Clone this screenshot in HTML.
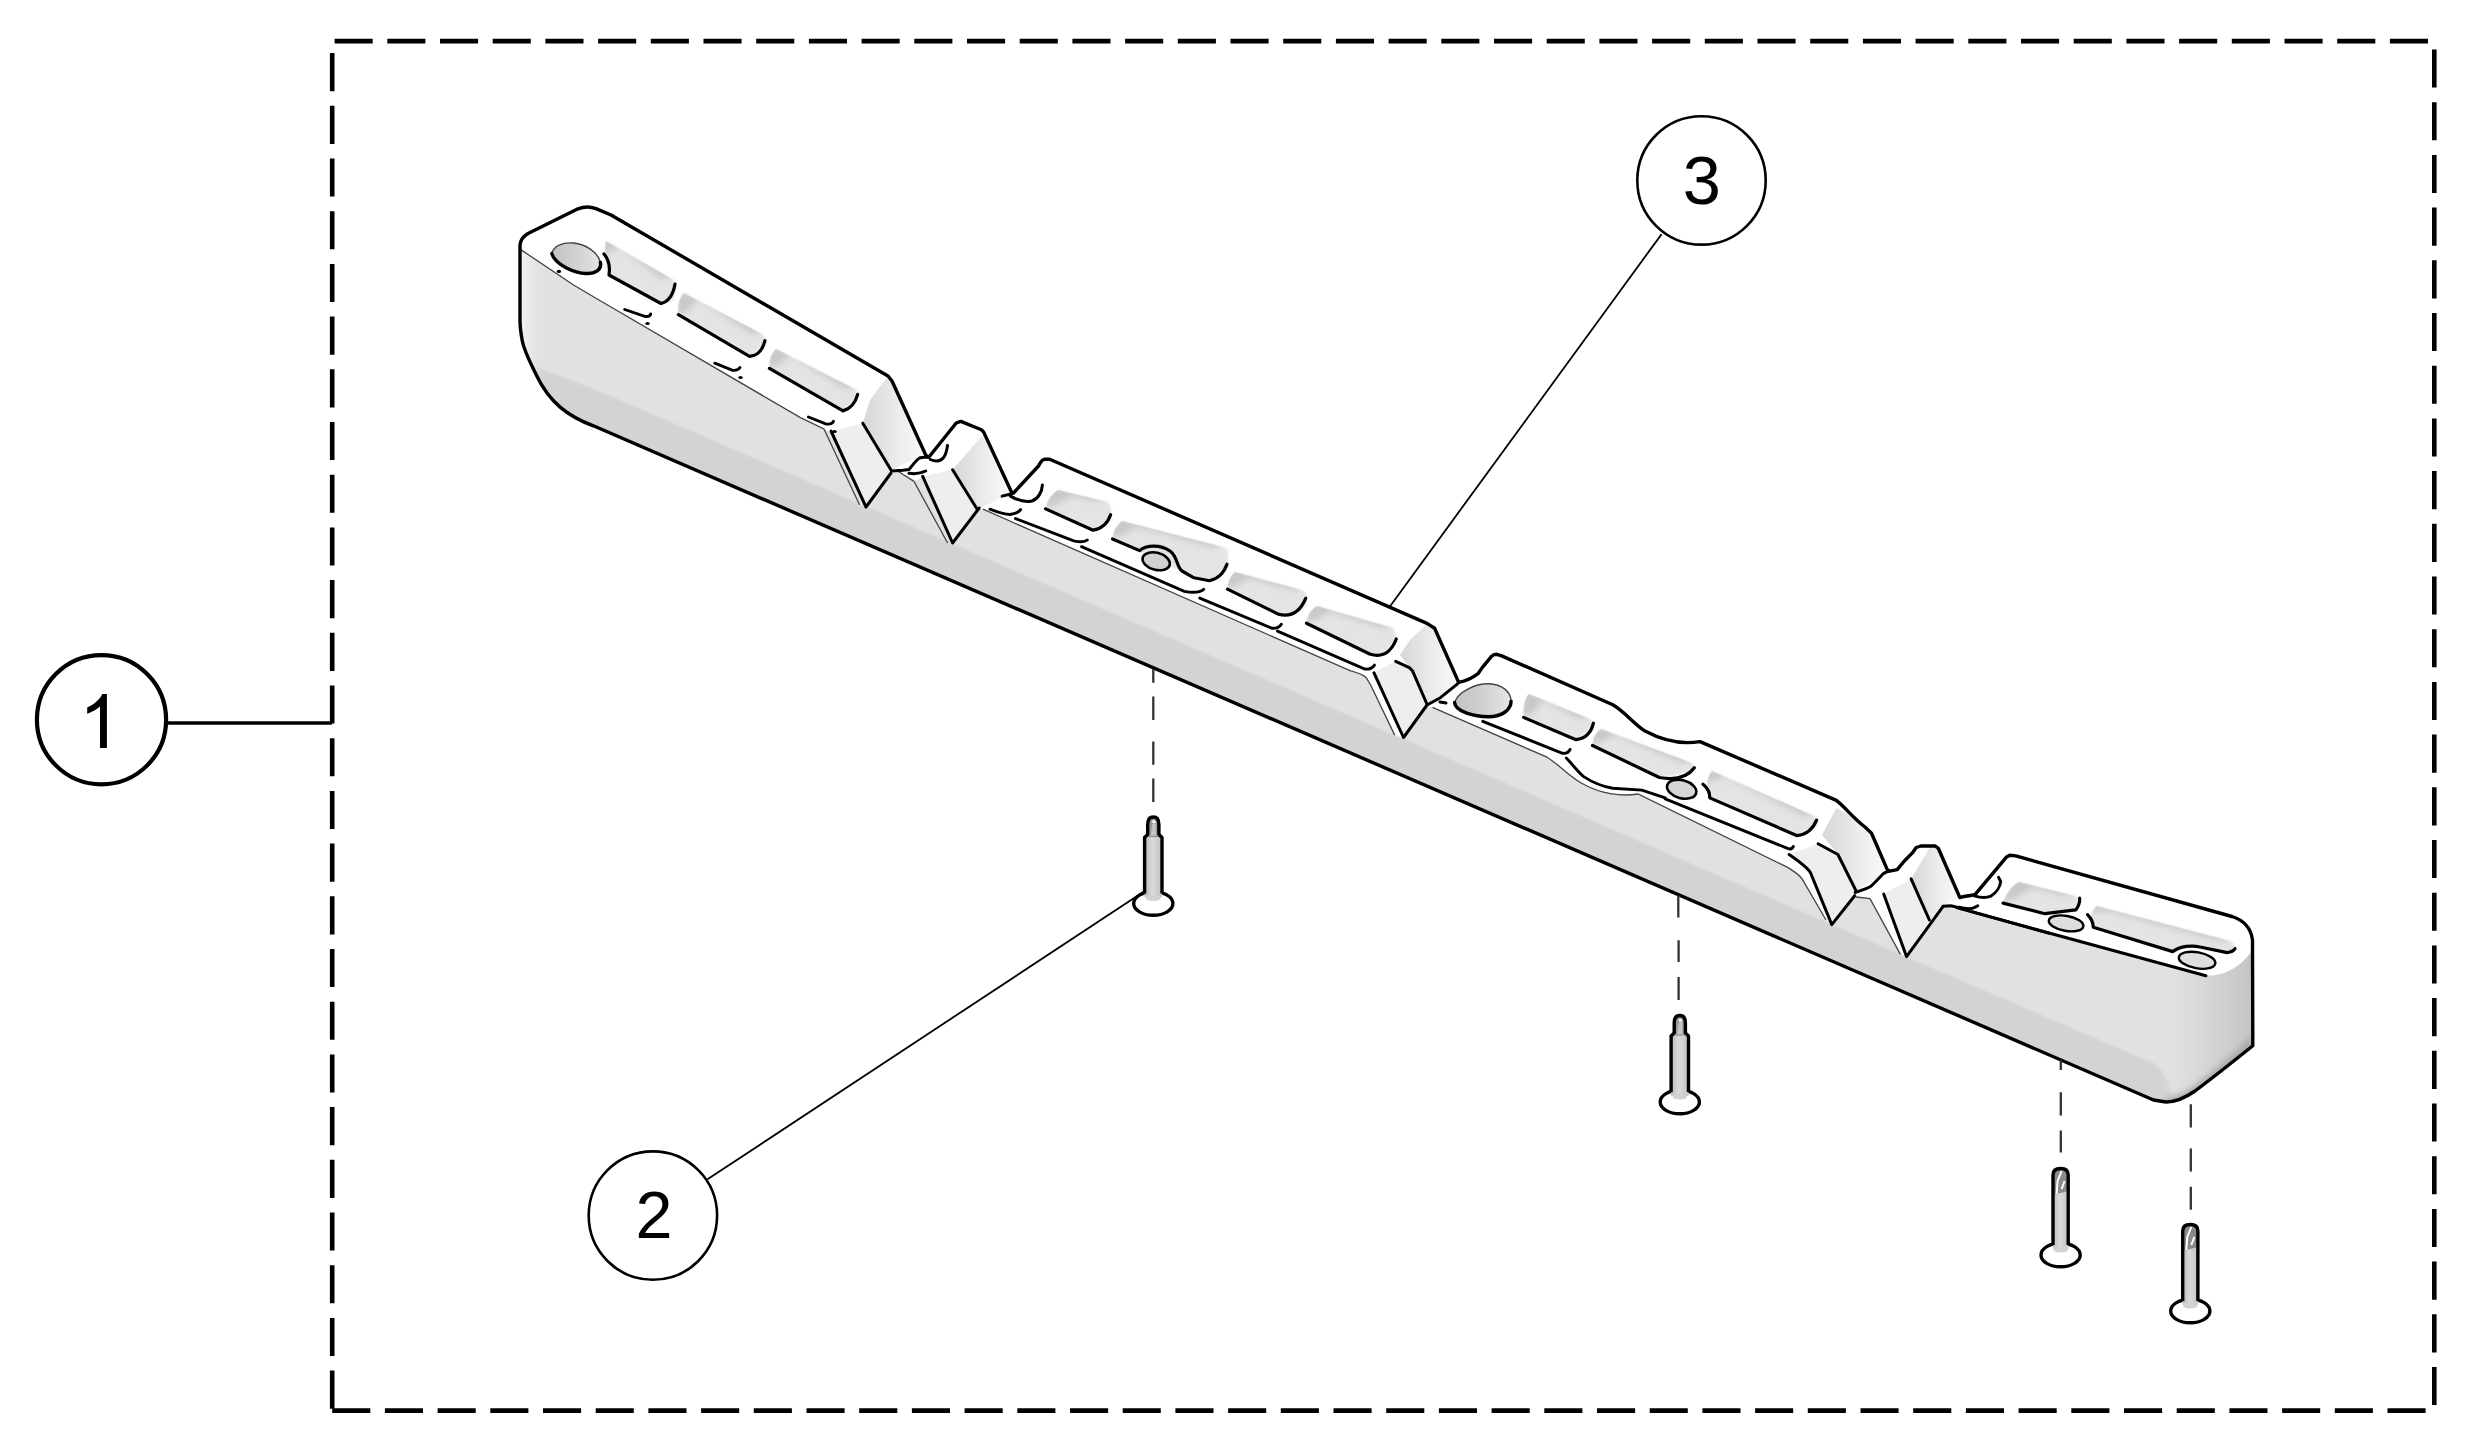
<!DOCTYPE html>
<html>
<head>
<meta charset="utf-8">
<style>
html,body{margin:0;padding:0;background:#fff;}
body{width:2466px;height:1443px;overflow:hidden;}
svg{display:block;}
text{font-family:"Liberation Sans",sans-serif;}
</style>
</head>
<body>
<svg width="2466" height="1443" viewBox="0 0 2466 1443">
<defs>
<linearGradient id="holeg" x1="0" y1="0" x2="1" y2="0">
<stop offset="0" stop-color="#c2c2c2"/><stop offset="0.6" stop-color="#d4d4d4"/><stop offset="1" stop-color="#e6e6e6"/>
</linearGradient>
<linearGradient id="shaft" x1="0" y1="0" x2="1" y2="0">
<stop offset="0" stop-color="#bcbcbc"/><stop offset="0.45" stop-color="#dadada"/><stop offset="1" stop-color="#c2c2c2"/>
</linearGradient>
<linearGradient id="rend" x1="0" y1="0" x2="1" y2="0">
<stop offset="0" stop-color="#e1e1e1" stop-opacity="0"/><stop offset="0.5" stop-color="#d6d6d6"/><stop offset="1" stop-color="#c4c4c4"/>
</linearGradient>
<linearGradient id="lend" x1="0" y1="0" x2="1" y2="0">
<stop offset="0" stop-color="#f4f4f4"/><stop offset="1" stop-color="#e1e1e1" stop-opacity="0"/>
</linearGradient>
<linearGradient id="wall" x1="0" y1="0" x2="1" y2="0">
<stop offset="0" stop-color="#d6d6d6"/><stop offset="0.6" stop-color="#eeeeee"/><stop offset="1" stop-color="#fafafa"/>
</linearGradient>
<filter id="blur3" x="-20%" y="-20%" width="140%" height="140%"><feGaussianBlur stdDeviation="2.2"/></filter>
<filter id="sb" x="-20%" y="-20%" width="140%" height="140%"><feGaussianBlur stdDeviation="1.1"/></filter>
<filter id="sb2" x="-30%" y="-30%" width="160%" height="160%"><feGaussianBlur stdDeviation="3"/></filter>
</defs>

<g stroke="#000" stroke-width="4.6" fill="none" stroke-dasharray="38.1 14.6">
<path d="M334.6 41.1H2428"/>
<path d="M332.2 1410.6H2426"/>
<path d="M332.2 53.1V1409"/>
<path d="M2434.3 49.5V1405"/>
</g>
<circle cx="101.5" cy="719.7" r="64.6" fill="none" stroke="#000" stroke-width="4.2"/>
<path d="M168 722.9H332" stroke="#000" stroke-width="3.5"/>
<path d="M102.3 694.1H106.9V747.9H100V706.5C97 709 92 712 87.2 713.7V707.6C94 704.5 99.5 700 102.3 694.1Z" fill="#000"/>
<circle cx="1701.5" cy="180.4" r="64.2" fill="none" stroke="#000" stroke-width="2.6"/>
<path d="M1661.6 234.1L1386.1 611.7" stroke="#000" stroke-width="1.8"/>
<text x="1701.8" y="203.9" font-size="68.5" text-anchor="middle">3</text>
<circle cx="652.9" cy="1215.6" r="64.2" fill="none" stroke="#000" stroke-width="2.6"/>
<path d="M707.5 1179.3L1144 891.5" stroke="#000" stroke-width="1.8"/>
<text x="654" y="1237.8" font-size="66.5" text-anchor="middle">2</text>
<path fill="#fff" d="M520 322 L520 245 C520.5 240 523 236.5 528 233.5 L578 208.8 C583 206.8 590 206.3 596 208.6 L611 215 L888 376 L892 381 L925.7 455 L928.8 457.3 L956.2 423 L960.8 421.4 L981.4 429.8 L983.7 432.1 L1011.8 492.7 L1013.5 493 L1038.5 466 C1040.5 462 1042.5 459.2 1044.8 459.2 L1049.7 459.2 L1052 460.2 L1427 623.4 L1434.6 628.2 L1458.7 682.4 L1463.7 681.2 C1468 680 1473 677.4 1478 673.7 L1482.4 667.4 L1491.7 656.2 C1493 655 1495 654.3 1496.7 654.3 L1501.1 655.6 L1612.8 704.8 C1625 712 1635 725 1645 731 C1660 739 1680 745 1700 741.6 L1836.4 800.4 C1846 808 1853 818 1865 827 L1871.5 833.2 L1887.3 869.6 L1889.5 871.2 L1897.2 869.6 L1904.8 860.5 L1912.4 852.9 L1916.2 847.5 L1920.8 846 L1935.3 846 L1938.3 848.3 L1959.8 897.5 L1962.6 896.8 L1975 894.7 L2006.2 857.3 L2009.7 855.2 L2015.9 855.9 L2232 916.5 C2243 920 2251 928 2252.5 940 L2252.8 1045.7 C2240 1056 2215 1076 2195 1091 C2185 1098 2175 1102 2166 1102 L2153.5 1100 L593.4 425.8 C583 422 570 415.5 560.1 407.1 C550.2 398.7 542 387 536.2 374.8 C531 363.8 524.5 352 522.3 341 C521 334 520.1 328 520.1 322 Z"/>
<path fill="#eeeeee" d="M831 431 L862.8 423.2 L891 470 L866 507 Z"/>
<path fill="url(#wall)" d="M862.8 423.2 L870 400 L888 376 L892 381 L926.5 454 L891 470 Z"/>
<path fill="#eeeeee" d="M922.7 476.4 L952.6 469.8 L977.5 509.7 L952.6 543 Z"/>
<path fill="url(#wall)" d="M952.6 469.8 L984.5 433 L1012 492.4 L977.5 509.7 Z"/>
<path fill="#eeeeee" d="M1374 672.8 L1395.7 661.3 L1409.3 667.6 L1412.4 670.7 L1426.9 704 L1403.5 737.5 Z"/>
<path fill="url(#wall)" d="M1400 655 L1410 640 L1427 623.4 L1434.6 628.2 L1458.7 682.4 L1427 705 L1412.4 670.7 L1409.3 667.6 Z"/>
<path fill="#eeeeee" d="M1789 854.5 L1818 843.8 L1838 854.5 L1856 891 L1832 924.6 L1810.5 872.8 Z"/>
<path fill="url(#wall)" d="M1822 835 L1836.4 808 L1851.6 816.4 L1865 827 L1871.5 833.2 L1888.2 871.3 L1856 891 L1838 854.5 Z"/>
<path fill="#eeeeee" d="M1883.7 894.1 L1911.1 878.9 L1929.4 920 L1906.5 956.6 Z"/>
<path fill="url(#wall)" d="M1911.1 878.9 L1930.9 845.4 L1937 847.7 L1959.1 898 L1943.1 906.3 L1929.4 920 Z"/>
<path fill="#e1e1e1" d="M520 249 L521.2 249.9 L573.6 285 L599 300 L800 417.4 L824 429 L830 432 L864 507.7 L891.5 474 L897.6 471 L916 480.2 L922 478 L951 542.7 L977 509.2 L983 509.2 L1350 670.7 C1358 673 1364 675 1366 677.5 L1370.8 685.2 L1394.7 735.1 L1403.5 739 L1427 706 L1432.5 707.4 L1547 757.2 C1560 765 1570 778 1585 785 C1600 793 1620 797 1638 794 L1780 863.7 C1790 868 1800 875 1803 880.4 L1826 920 L1832 924.6 L1854.7 895.7 L1870 898.7 L1900.4 954.4 L1906.5 956.6 L1943 906.3 L2205.9 975.8 C2225 976 2240 968 2252.8 950 L2252.8 1045.7 C2240 1056 2215 1076 2195 1091 C2185 1098 2175 1102 2166 1102 L2153.5 1100 L593.4 425.8 C583 422 570 415.5 560.1 407.1 C550.2 398.7 542 387 536.2 374.8 C531 363.8 524.5 352 522.3 341 C521 334 520.1 328 520.1 322 Z"/>
<path fill="#d3d3d3" filter="url(#sb)" d="M536.6 366.3 C550 373 565 378 576.2 382.3 L600 391.6 L1300 694.2 L1940 971.5 L2153.5 1063.2 C2165 1072 2172 1085 2170 1101 L2153.5 1100 L593.4 425.8 C583 422 570 415.5 560.1 407.1 C550.2 398.7 542 387 536.6 375.5 L536.6 366.3 Z"/>
<path fill="url(#rend)" d="M2160 968 L2205.9 975.8 C2225 976 2240 968 2252.8 950 L2252.8 1045.7 C2240 1056 2215 1076 2195 1091 C2185 1098 2175 1102 2166 1102 L2160 1099 Z"/>
<clipPath id="frc"><path d="M520 249 L521.2 249.9 L573.6 285 L599 300 L800 417.4 L824 429 L830 432 L864 507.7 L891.5 474 L897.6 471 L916 480.2 L922 478 L951 542.7 L977 509.2 L983 509.2 L1350 670.7 C1358 673 1364 675 1366 677.5 L1370.8 685.2 L1394.7 735.1 L1403.5 739 L1427 706 L1432.5 707.4 L1547 757.2 C1560 765 1570 778 1585 785 C1600 793 1620 797 1638 794 L1780 863.7 C1790 868 1800 875 1803 880.4 L1826 920 L1832 924.6 L1854.7 895.7 L1870 898.7 L1900.4 954.4 L1906.5 956.6 L1943 906.3 L2205.9 975.8 C2225 976 2240 968 2252.8 950 L2252.8 1045.7 C2240 1056 2215 1076 2195 1091 C2185 1098 2175 1102 2166 1102 L2153.5 1100 L593.4 425.8 C583 422 570 415.5 560.1 407.1 C550.2 398.7 542 387 536.2 374.8 C531 363.8 524.5 352 522.3 341 C521 334 520.1 328 520.1 322 Z"/></clipPath>
<g clip-path="url(#frc)"><path d="M2252.8 1040 C2240 1056 2215 1076 2195 1091 C2185 1098 2175 1102 2166 1102" fill="none" stroke="#a8a8a8" stroke-width="9" filter="url(#sb2)"/></g>
<path fill="url(#lend)" d="M520 250 L545 265 L545 390 C535 375 525 355 520 322 Z"/>
<clipPath id="sc0"><path d="M606 241 L672 279 Q678 283 676 290 L673 300 L661 303.5 L609 275 Q603 262 606 241 Z"/></clipPath>
<clipPath id="sc1"><path d="M684 293 L762 334 Q767 338 766 344 L749.5 356.3 L678.4 314.7 Q677 300 684 293 Z"/></clipPath>
<clipPath id="sc2"><path d="M776 349 L855 389 Q859 393 858 398 L843 410.9 L769.4 368.4 Q769 355 776 349 Z"/></clipPath>
<clipPath id="sc3"><path d="M1058 490 L1106 501.5 Q1111 503.5 1111 508 L1110.6 520 L1093.1 530.2 L1045.6 508.9 Q1048 496 1058 490 Z"/></clipPath>
<clipPath id="sc4"><path d="M1122 521 L1223 547 Q1228 549 1228 553 L1227 570 L1209.5 580.7 L1194 577.8 L1112.5 539 Q1114 527 1122 521 Z"/></clipPath>
<clipPath id="sc5"><path d="M1235 572 L1302 590 Q1306.5 592 1306.5 596 L1306 606 L1294.8 614.1 L1278.2 614.1 L1227.5 589.1 Q1228 578 1235 572 Z"/></clipPath>
<clipPath id="sc6"><path d="M1317 606 L1393 628 Q1397 632 1396 640 L1382.2 654.8 L1369.7 654 L1306.5 623.2 Q1308 611 1317 606 Z"/></clipPath>
<clipPath id="sc7"><path d="M1529 694 L1590 719 Q1594 723 1593.4 728 L1576 739.7 L1523.6 717.4 Q1523 700 1529 694 Z"/></clipPath>
<clipPath id="sc8"><path d="M1601 729 L1692 763 Q1696 767 1695 772 L1659.4 777.5 L1592.5 745.5 Q1593 734 1601 729 Z"/></clipPath>
<clipPath id="sc9"><path d="M1712 771 L1814 816 Q1818 820 1817 826 L1797.2 835.7 L1709.8 797.9 Q1703 784.3 1712 771 Z"/></clipPath>
<clipPath id="sc10"><path d="M2019 882 L2075 896 Q2080 898 2079 903 L2075.8 909.9 L2044.8 913.7 L2003.1 903.1 Q2008 888 2019 882 Z"/></clipPath>
<clipPath id="sc11"><path d="M2097 906 L2230 941 Q2236 944 2235 949 L2227.2 952.6 L2192.3 946.7 L2172.9 951.6 L2093.3 927.3 Q2088 914 2097 906 Z"/></clipPath>
<path fill="#e4e4e4" filter="url(#sb)" d="M606 241 L672 279 Q678 283 676 290 L673 300 L661 303.5 L609 275 Q603 262 606 241 Z"/>
<g clip-path="url(#sc0)"><path fill="#c8c8c8" filter="url(#sb2)" d="M602.0 237.0 L676.0 275.0 L662.0 279.0 L620.0 247.0 L614.0 250.0 L600.0 254.0 Z"/></g>
<path fill="#e4e4e4" filter="url(#sb)" d="M684 293 L762 334 Q767 338 766 344 L749.5 356.3 L678.4 314.7 Q677 300 684 293 Z"/>
<g clip-path="url(#sc1)"><path fill="#c8c8c8" filter="url(#sb2)" d="M680.0 289.0 L766.0 330.0 L752.0 334.0 L698.0 299.0 L688.4 310.7 L674.4 314.7 Z"/></g>
<path fill="#e4e4e4" filter="url(#sb)" d="M776 349 L855 389 Q859 393 858 398 L843 410.9 L769.4 368.4 Q769 355 776 349 Z"/>
<g clip-path="url(#sc2)"><path fill="#c8c8c8" filter="url(#sb2)" d="M772.0 345.0 L859.0 385.0 L845.0 389.0 L790.0 355.0 L779.4 364.4 L765.4 368.4 Z"/></g>
<path fill="#e4e4e4" filter="url(#sb)" d="M1058 490 L1106 501.5 Q1111 503.5 1111 508 L1110.6 520 L1093.1 530.2 L1045.6 508.9 Q1048 496 1058 490 Z"/>
<g clip-path="url(#sc3)"><path fill="#c8c8c8" filter="url(#sb2)" d="M1054.0 486.0 L1110.0 497.5 L1096.0 501.5 L1072.0 496.0 L1055.6 504.9 L1041.6 508.9 Z"/></g>
<path fill="#e4e4e4" filter="url(#sb)" d="M1122 521 L1223 547 Q1228 549 1228 553 L1227 570 L1209.5 580.7 L1194 577.8 L1112.5 539 Q1114 527 1122 521 Z"/>
<g clip-path="url(#sc4)"><path fill="#c8c8c8" filter="url(#sb2)" d="M1118.0 517.0 L1227.0 543.0 L1213.0 547.0 L1136.0 527.0 L1122.5 535.0 L1108.5 539.0 Z"/></g>
<path fill="#e4e4e4" filter="url(#sb)" d="M1235 572 L1302 590 Q1306.5 592 1306.5 596 L1306 606 L1294.8 614.1 L1278.2 614.1 L1227.5 589.1 Q1228 578 1235 572 Z"/>
<g clip-path="url(#sc5)"><path fill="#c8c8c8" filter="url(#sb2)" d="M1231.0 568.0 L1306.0 586.0 L1292.0 590.0 L1249.0 578.0 L1237.5 585.1 L1223.5 589.1 Z"/></g>
<path fill="#e4e4e4" filter="url(#sb)" d="M1317 606 L1393 628 Q1397 632 1396 640 L1382.2 654.8 L1369.7 654 L1306.5 623.2 Q1308 611 1317 606 Z"/>
<g clip-path="url(#sc6)"><path fill="#c8c8c8" filter="url(#sb2)" d="M1313.0 602.0 L1397.0 624.0 L1383.0 628.0 L1331.0 612.0 L1316.5 619.2 L1302.5 623.2 Z"/></g>
<path fill="#e4e4e4" filter="url(#sb)" d="M1529 694 L1590 719 Q1594 723 1593.4 728 L1576 739.7 L1523.6 717.4 Q1523 700 1529 694 Z"/>
<g clip-path="url(#sc7)"><path fill="#c8c8c8" filter="url(#sb2)" d="M1525.0 690.0 L1594.0 715.0 L1580.0 719.0 L1543.0 700.0 L1533.6 713.4 L1519.6 717.4 Z"/></g>
<path fill="#e4e4e4" filter="url(#sb)" d="M1601 729 L1692 763 Q1696 767 1695 772 L1659.4 777.5 L1592.5 745.5 Q1593 734 1601 729 Z"/>
<g clip-path="url(#sc8)"><path fill="#c8c8c8" filter="url(#sb2)" d="M1597.0 725.0 L1696.0 759.0 L1682.0 763.0 L1615.0 735.0 L1602.5 741.5 L1588.5 745.5 Z"/></g>
<path fill="#e4e4e4" filter="url(#sb)" d="M1712 771 L1814 816 Q1818 820 1817 826 L1797.2 835.7 L1709.8 797.9 Q1703 784.3 1712 771 Z"/>
<g clip-path="url(#sc9)"><path fill="#c8c8c8" filter="url(#sb2)" d="M1708.0 767.0 L1818.0 812.0 L1804.0 816.0 L1726.0 777.0 L1713.0 780.3 L1699.0 784.3 Z"/></g>
<path fill="#e4e4e4" filter="url(#sb)" d="M2019 882 L2075 896 Q2080 898 2079 903 L2075.8 909.9 L2044.8 913.7 L2003.1 903.1 Q2008 888 2019 882 Z"/>
<g clip-path="url(#sc10)"><path fill="#c8c8c8" filter="url(#sb2)" d="M2015.0 878.0 L2079.0 892.0 L2065.0 896.0 L2033.0 888.0 L2013.1 899.1 L1999.1 903.1 Z"/></g>
<path fill="#e4e4e4" filter="url(#sb)" d="M2097 906 L2230 941 Q2236 944 2235 949 L2227.2 952.6 L2192.3 946.7 L2172.9 951.6 L2093.3 927.3 Q2088 914 2097 906 Z"/>
<g clip-path="url(#sc11)"><path fill="#c8c8c8" filter="url(#sb2)" d="M2093.0 902.0 L2234.0 937.0 L2220.0 941.0 L2111.0 912.0 L2097.5 910.7 L2083.5 914.7 Z"/></g>
<path d="M551.8 253.6 C553 246 563 242 573.6 243 C585 244 598 252 600.4 262.4 C602 270 595 274 586.1 273.5 C575 273 555 265 551.8 253.6 Z" fill="url(#holeg)" stroke="#444" stroke-width="1.4"/>
<path d="M1454.6 702.4 C1458 692 1475 683.5 1488.6 683.7 C1502 684 1511 692 1511.1 701.1 C1511 710 1502 716.7 1488.6 716.7 C1475 716.7 1455 712 1454.6 702.4 Z" fill="url(#holeg)" stroke="#444" stroke-width="1.4"/>
<g fill="none" stroke="#000" stroke-width="3.4" stroke-linecap="round">
<path d="M551.8 253.6 C555 265 575 273 586.1 273.5 C595 274 602 270 600.4 262.4"/>
<path d="M1454.6 702.4 C1455 712 1475 716.7 1488.6 716.7 C1502 716.7 1511 710 1511.1 701.1"/>
</g>
<ellipse cx="1156.2" cy="561.3" rx="14" ry="8.5" transform="rotate(15 1156.2 561.3)" fill="#d2d2d2" stroke="#000" stroke-width="2.6"/>
<ellipse cx="1681.7" cy="789.2" rx="15" ry="9" transform="rotate(15 1681.7 789.2)" fill="#d6d6d6" stroke="#000" stroke-width="2.6"/>
<ellipse cx="2066.1" cy="923.4" rx="17.5" ry="7.5" transform="rotate(10 2066.1 923.4)" fill="#dedede" stroke="#000" stroke-width="2.4"/>
<ellipse cx="2197.1" cy="960.3" rx="18.5" ry="8" transform="rotate(10 2197.1 960.3)" fill="#dedede" stroke="#000" stroke-width="2.4"/>
<g fill="none" stroke="#000" stroke-width="3.2" stroke-linecap="round" stroke-linejoin="round">
<path d="M604 254 Q611 262 609 275 L661 303.5 Q672 301 675 284"/>
<path d="M678.4 314.7 L749.5 356.3 Q761 356 765 340.7"/>
<path d="M769.4 368.4 L843 410.9 Q854 408 857.7 394.4"/>
<path d="M1045.6 508.9 L1093.1 530.2 Q1106 528 1110.6 514.7"/>
<path d="M1112.5 539 L1139.7 550.6 C1146 545 1160 544 1170 551 C1178 557 1176 566 1182 571 L1194 577.8 L1209.5 580.7 Q1222 578 1227 564.2"/>
<path d="M1227.5 589.1 L1278.2 614.1 Q1297 619 1305.7 598.3"/>
<path d="M1306.5 623.2 L1369.7 654 Q1388 660 1396.3 639"/>
<path d="M1523.6 717.4 L1576 739.7 Q1590 738 1593.4 723.2"/>
<path d="M1592.5 745.5 L1659.4 777.5 Q1684 782 1694.3 767.8"/>
<path d="M1703 784.3 Q1710 790 1709.8 797.9 L1797.2 835.7 Q1811 834 1816.6 820.2"/>
<path d="M2003.1 903.1 L2044.8 913.7 L2075.8 909.9 Q2080 905 2079.7 898.2"/>
<path d="M2087.5 914.7 Q2093 920 2093.3 927.3 L2172.9 951.6 C2180 946 2192 945 2200 947 L2227.2 952.6 Q2233 952 2235 948.7"/>
</g>
<g fill="none" stroke="#000" stroke-width="2.9" stroke-linecap="round">
<path d="M624.7 309.5 L645.5 316.5 Q650 317 650.7 313.9"/>
<path d="M714.8 363.2 L732.1 370.2 Q738 371 740 367.6"/>
<path d="M808.4 417 L825.7 423.9 Q832 425 833.5 421.3"/>
<path d="M1015.5 518.6 L1073.7 540.9 Q1084 543 1087.3 540"/>
<path d="M1081.5 546.7 L1184.3 591.3 Q1198 594 1203.7 589.4"/>
<path d="M1199.8 598.1 L1271.6 628.2 Q1278 629 1281.3 624.3"/>
<path d="M1277.5 631.1 L1364.8 669 Q1371 670 1374.5 665.1"/>
<path d="M1482.8 721.3 L1562.4 753.3 Q1568 754 1570.1 749.4"/>
<path d="M1566.3 758.1 C1574 766 1578 772 1583.7 776.6 C1595 784 1605 787 1612.8 788.2 L1641.9 790.1 L1665.2 797.9"/>
<path d="M1665.2 798.9 L1787.5 848.4 Q1792 850 1793.3 846.4"/>
<path d="M1973 911.8 L2048.7 933.1"/>
</g>
<ellipse cx="558.9" cy="271.4" rx="2.2" ry="1.6" fill="#000"/>
<ellipse cx="647.5" cy="323.5" rx="2.2" ry="1.6" fill="#000"/>
<ellipse cx="740.5" cy="377.5" rx="2.2" ry="1.6" fill="#000"/>
<ellipse cx="834.5" cy="431.5" rx="2.2" ry="1.6" fill="#000"/>
<path fill="none" stroke="#444" stroke-width="1.3" d="M521.2 249.9 L573.6 285 L599 300 L800 417.4 L824 429 L859.5 504.7 M897.6 471 L914 481.4 L947.6 543 M983 509.2 L1350 670.7 C1358 673 1364 675 1366 677.5 L1370.8 685.2 L1394.7 735.1 M1432.5 707.4 L1547 757.2 C1560 765 1570 778 1585 785 C1600 793 1620 797 1638 794 L1780 863.7 C1790 868 1800 875 1803 880.4 L1826 920 M1856 897 L1870 898.7 L1900.4 954.4"/>
<g fill="none" stroke="#000" stroke-width="3" stroke-linecap="round" stroke-linejoin="round">
<path d="M831 431 L866 507 L891 473"/>
<path d="M862.8 423.2 L891 470"/>
<path d="M922.7 476.4 L952.6 543 L979.2 508"/>
<path d="M952.6 469.8 L977.5 509.7"/>
<path d="M1374 672.8 L1403.5 737.5 L1427 705 L1440.4 697.7 L1456 685.2 L1458.7 682.4"/>
<path d="M1395.7 661.3 L1409.3 667.6 L1412.4 670.7 L1426.9 704"/>
<path d="M1789.1 854.5 C1800 862 1808 868 1810.5 872.8 L1831.8 924.6 L1854.7 895.7"/>
<path d="M1818.1 843.8 L1837.9 854.5 L1856.2 891.1"/>
<path d="M1883.7 894.1 L1906.5 956.6 L1943.1 906.3"/>
<path d="M1911.1 878.9 L1929.4 920"/>
<path d="M1957 907.9 L2205.9 975.8"/>
<path d="M1943.1 906.3 L1950.8 905.8 L1957 907.2"/>
<path d="M930.3 459.5 C936 462 941 461 944 457 C946.5 453 947 449 947.5 445.5"/>
<path d="M891.4 471 L902.9 470.2 L909 469.5 C912 466 916 460 919.6 458 C922 457 925 457 928 457.3"/>
<path d="M909 473.3 C914 474 920 474 925.7 471"/>
<path d="M1002.1 496.1 L1011.8 493.7"/>
<path d="M1010.4 496.1 C1017 500 1025 502.5 1032 501 C1038 499 1042 492 1042.4 484.9"/>
<path d="M990 509.2 C997 512 1004 514.5 1010 514.5 C1015 514 1019 512 1020.6 509.7"/>
<path d="M1440 702 L1446 703"/>
<path d="M1855.2 892.5 C1862 890 1868 888 1870.5 886.4 C1874 884 1878 879 1882.7 874.2 C1885 872 1887 871.5 1888.8 871.2"/>
<path d="M1975 896.1 C1980 897.5 1986 898 1991 896.1 C1996 893 2000 887 2000.7 881.6 L1998.6 877.4"/>
<path d="M1959.1 907.2 C1963 908.5 1968 909 1971.6 908.6 C1974 908 1976 907 1977.8 905.8"/>
</g>
<path fill="none" stroke="#000" stroke-width="3.4" stroke-linejoin="round" d="M520 322 L520 245 C520.5 240 523 236.5 528 233.5 L578 208.8 C583 206.8 590 206.3 596 208.6 L611 215 L888 376 L892 381 L925.7 455 L928.8 457.3 L956.2 423 L960.8 421.4 L981.4 429.8 L983.7 432.1 L1011.8 492.7 L1013.5 493 L1038.5 466 C1040.5 462 1042.5 459.2 1044.8 459.2 L1049.7 459.2 L1052 460.2 L1427 623.4 L1434.6 628.2 L1458.7 682.4 L1463.7 681.2 C1468 680 1473 677.4 1478 673.7 L1482.4 667.4 L1491.7 656.2 C1493 655 1495 654.3 1496.7 654.3 L1501.1 655.6 L1612.8 704.8 C1625 712 1635 725 1645 731 C1660 739 1680 745 1700 741.6 L1836.4 800.4 C1846 808 1853 818 1865 827 L1871.5 833.2 L1887.3 869.6 L1889.5 871.2 L1897.2 869.6 L1904.8 860.5 L1912.4 852.9 L1916.2 847.5 L1920.8 846 L1935.3 846 L1938.3 848.3 L1959.8 897.5 L1962.6 896.8 L1975 894.7 L2006.2 857.3 L2009.7 855.2 L2015.9 855.9 L2232 916.5 C2243 920 2251 928 2252.5 940 L2252.8 1045.7 C2240 1056 2215 1076 2195 1091 C2185 1098 2175 1102 2166 1102 L2153.5 1100 L593.4 425.8 C583 422 570 415.5 560.1 407.1 C550.2 398.7 542 387 536.2 374.8 C531 363.8 524.5 352 522.3 341 C521 334 520.1 328 520.1 322 Z"/>
<g stroke="#333" stroke-width="2.3" fill="none">
<path d="M1153.3 668.9 V682.7 M1153.3 696.6 V719.9 M1153.3 741.5 V764.8 M1153.3 778.6 V801.9"/>
<path d="M1678.3 895.5 V917.4 M1678.6 940.2 V962 M1678.6 977.1 V999.9"/>
<path d="M2060.8 1060 V1070 M2060.8 1092.3 V1115.4 M2060.8 1130.4 V1152.5"/>
<path d="M2190.8 1104.3 V1127.4 M2190.8 1148.5 V1171.6 M2190.8 1186.7 V1209.8"/>
</g>
<ellipse cx="1153.3" cy="903.5" rx="19.6" ry="11.8" fill="#fff" stroke="#000" stroke-width="3.4"/>
<path d="M1144.6 897.5 V837.5 L1147.7 834.5 V824.5 Q1147.7 817.0 1153.3 817.0 Q1158.8999999999999 817.0 1158.8999999999999 824.5 V834.5 L1162.0 837.5 V897.5 Z" fill="url(#shaft)"/>
<path d="M1147.7 835.5 V824.5 Q1147.7 817.5 1153.3 817.5 Q1158.8999999999999 817.5 1158.8999999999999 824.5 V835.5 Z" fill="#9a9a9a"/>
<path d="M1150.8 835.5 L1152.3 824.5 L1155.8 822.5 L1155.8 835.5 Z" fill="#c4c4c4"/>
<rect x="1152.3" y="820.5" width="3" height="2.5" fill="#fff"/>
<path d="M1148.7 836.5 H1157.8999999999999" stroke="#8a8a8a" stroke-width="1.2"/>
<path d="M1144.6 893.5 V837.5 L1147.7 834.5 V824.5 Q1147.7 817.0 1153.3 817.0 Q1158.8999999999999 817.0 1158.8999999999999 824.5 V834.5 L1162.0 837.5 V893.5" fill="none" stroke="#000" stroke-width="3.4" stroke-linejoin="round"/>
<path d="M1146.3 895.5 L1160.3 895.5 L1160.3 899.5 Q1153.3 902.5 1146.3 899.5 Z" fill="#d2d2d2"/>
<ellipse cx="1679.8" cy="1102" rx="19.6" ry="11.8" fill="#fff" stroke="#000" stroke-width="3.4"/>
<path d="M1671.1 1096 V1036 L1674.2 1033 V1023 Q1674.2 1015.5 1679.8 1015.5 Q1685.3999999999999 1015.5 1685.3999999999999 1023 V1033 L1688.5 1036 V1096 Z" fill="url(#shaft)"/>
<path d="M1674.2 1034 V1023 Q1674.2 1016 1679.8 1016 Q1685.3999999999999 1016 1685.3999999999999 1023 V1034 Z" fill="#9a9a9a"/>
<path d="M1677.3 1034 L1678.8 1023 L1682.3 1021 L1682.3 1034 Z" fill="#c4c4c4"/>
<rect x="1678.8" y="1019" width="3" height="2.5" fill="#fff"/>
<path d="M1675.2 1035 H1684.3999999999999" stroke="#8a8a8a" stroke-width="1.2"/>
<path d="M1671.1 1092 V1036 L1674.2 1033 V1023 Q1674.2 1015.5 1679.8 1015.5 Q1685.3999999999999 1015.5 1685.3999999999999 1023 V1033 L1688.5 1036 V1092" fill="none" stroke="#000" stroke-width="3.4" stroke-linejoin="round"/>
<path d="M1672.8 1094 L1686.8 1094 L1686.8 1098 Q1679.8 1101 1672.8 1098 Z" fill="#d2d2d2"/>
<ellipse cx="2060.6" cy="1255" rx="19.6" ry="11.8" fill="#fff" stroke="#000" stroke-width="3.4"/>
<path d="M2053.0 1249 V1175 Q2053.0 1168.5 2060.6 1168.5 Q2068.2 1168.5 2068.2 1175 V1249 Z" fill="url(#shaft)"/>
<path d="M2053.0 1195 V1175 Q2053.0 1168.5 2060.6 1168.5 Q2068.2 1168.5 2068.2 1175 V1191 Z" fill="#8a8a8a"/>
<path d="M2061.6 1171 L2057.6 1181 L2056.6 1194 M2064.6 1181 L2061.6 1189" fill="none" stroke="#fff" stroke-width="2"/>
<path d="M2053.0 1245 V1175 Q2053.0 1168.5 2060.6 1168.5 Q2068.2 1168.5 2068.2 1175 V1245" fill="none" stroke="#000" stroke-width="3.4"/>
<path d="M2053.6 1247 L2067.6 1247 L2067.6 1251 Q2060.6 1254 2053.6 1251 Z" fill="#d2d2d2"/>
<ellipse cx="2190.3" cy="1311" rx="19.6" ry="11.8" fill="#fff" stroke="#000" stroke-width="3.4"/>
<path d="M2182.7000000000003 1305 V1231 Q2182.7000000000003 1224.5 2190.3 1224.5 Q2197.9 1224.5 2197.9 1231 V1305 Z" fill="url(#shaft)"/>
<path d="M2182.7000000000003 1251 V1231 Q2182.7000000000003 1224.5 2190.3 1224.5 Q2197.9 1224.5 2197.9 1231 V1247 Z" fill="#8a8a8a"/>
<path d="M2191.3 1227 L2187.3 1237 L2186.3 1250 M2194.3 1237 L2191.3 1245" fill="none" stroke="#fff" stroke-width="2"/>
<path d="M2182.7000000000003 1301 V1231 Q2182.7000000000003 1224.5 2190.3 1224.5 Q2197.9 1224.5 2197.9 1231 V1301" fill="none" stroke="#000" stroke-width="3.4"/>
<path d="M2183.3 1303 L2197.3 1303 L2197.3 1307 Q2190.3 1310 2183.3 1307 Z" fill="#d2d2d2"/>
</svg>
</body>
</html>
